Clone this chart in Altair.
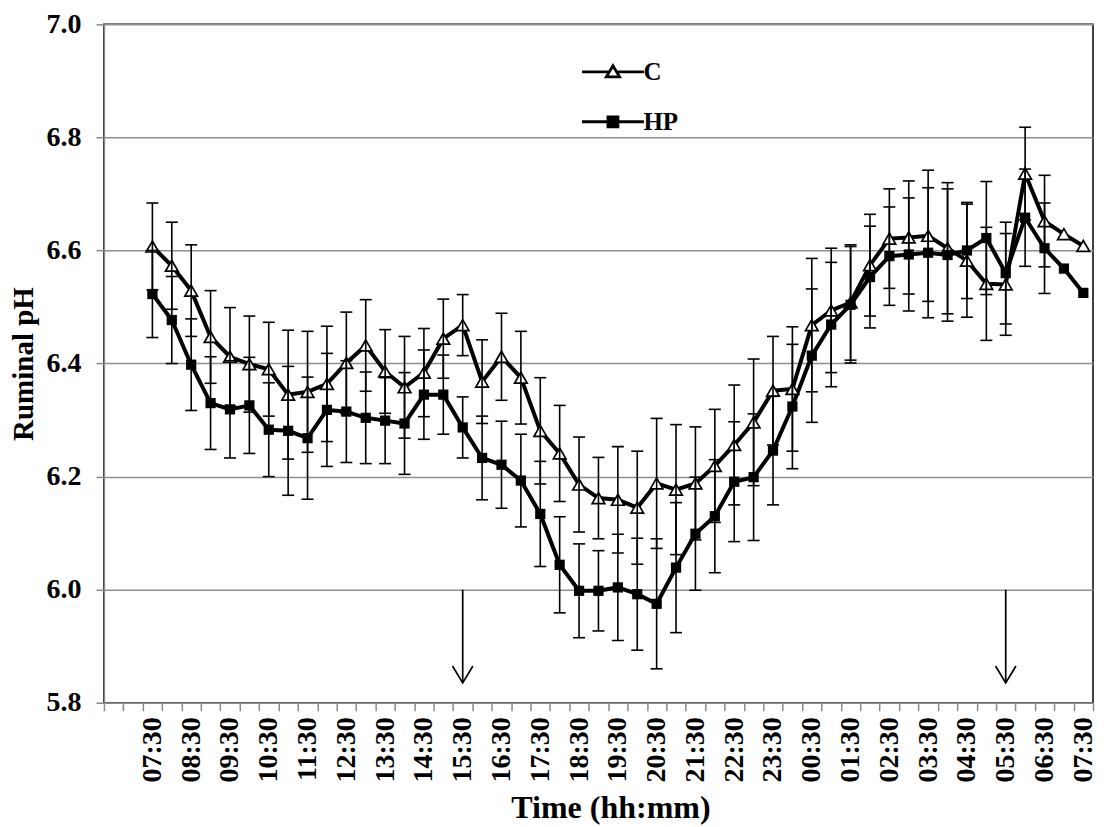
import json
import altair as alt
import pandas as pd

times = ["07:30", "08:00", "08:30", "09:00", "09:30", "10:00", "10:30", "11:00", "11:30",
         "12:00", "12:30", "13:00", "13:30", "14:00", "14:30", "15:00", "15:30", "16:00",
         "16:30", "17:00", "17:30", "18:00", "18:30", "19:00", "19:30", "20:00", "20:30",
         "21:00", "21:30", "22:00", "22:30", "23:00", "23:30", "00:00", "00:30", "01:00",
         "01:30", "02:00", "02:30", "03:00", "03:30", "04:00", "04:30", "05:00", "05:30",
         "06:00", "06:30", "07:00", "07:30"]

series_names = ["C", "HP"]

c_mean = [6.607, 6.573, 6.529, 6.447, 6.412, 6.399, 6.390, 6.345, 6.350, 6.364,
          6.401, 6.432, 6.386, 6.358, 6.384, 6.444, 6.468, 6.368, 6.412, 6.375,
          6.281, 6.241, 6.186, 6.162, 6.159, 6.145, 6.188, 6.177, 6.188, 6.219,
          6.256, 6.296, 6.352, 6.355, 6.468, 6.494, 6.508, 6.574, 6.621, 6.623,
          6.626, 6.604, 6.582, 6.541, 6.540, 6.736, 6.652, 6.629, 6.608]
c_se = [0.077, 0.077, 0.081, 0.082, 0.087, 0.085, 0.083, 0.114, 0.107, 0.102,
        0.090, 0.081, 0.074, 0.090, 0.078, 0.070, 0.054, 0.074, 0.077, 0.082,
        0.094, 0.085, 0.084, 0.072, 0.094, 0.100, 0.115, 0.115, 0.100, 0.100,
        0.106, 0.112, 0.096, 0.110, 0.118, 0.110, 0.102, 0.090, 0.088, 0.100,
        0.116, 0.116, 0.100, 0.100, 0.090, 0.082, 0.081, None, None]

hp_mean = [6.523, 6.477, 6.398, 6.330, 6.319, 6.326, 6.283, 6.281, 6.268, 6.318,
           6.315, 6.304, 6.299, 6.294, 6.345, 6.345, 6.287, 6.233, 6.221, 6.193,
           6.134, 6.044, 5.998, 5.998, 6.004, 5.992, 5.975, 6.039, 6.099, 6.130,
           6.191, 6.199, 6.246, 6.324, 6.414, 6.469, 6.504, 6.553, 6.590, 6.593,
           6.596, 6.592, 6.600, 6.622, 6.560, 6.658, 6.604, 6.568, 6.525]
hp_se = [0.077, 0.077, 0.081, 0.082, 0.086, 0.085, 0.083, 0.114, 0.108, 0.100,
         0.090, 0.081, 0.076, 0.090, 0.079, 0.070, 0.054, 0.074, 0.077, 0.082,
         0.093, 0.085, 0.083, 0.071, 0.094, 0.099, 0.115, 0.115, 0.100, 0.100,
         0.106, 0.112, 0.096, 0.110, 0.118, 0.110, 0.103, 0.090, 0.087, 0.100,
         0.115, 0.117, 0.085, 0.100, 0.090, 0.086, 0.080, None, None]

arrow_times = ["15:30", "05:30"]
arrow_top = 6.0
arrow_bottom = 5.835

y_ticks = [5.8, 6.0, 6.2, 6.4, 6.6, 6.8, 7.0]

# ---------- tables ----------
rows = []
for name, means, ses in (("C", c_mean, c_se), ("HP", hp_mean, hp_se)):
    for i, (m, s) in enumerate(zip(means, ses)):
        rows.append({"series": name, "idx": i, "time": times[i], "mean": m,
                     "lo": None if s is None else m - s,
                     "hi": None if s is None else m + s})
df = pd.DataFrame(rows)
err_df = df.dropna(subset=["lo"])

arrow_df = pd.DataFrame({"idx": [times.index(t) for t in arrow_times],
                         "top": [arrow_top] * len(arrow_times),
                         "bottom": [arrow_bottom] * len(arrow_times)})

FONT = "Liberation Serif"
label_expr = ("datum.value >= 0 && datum.value % 2 == 0 ? "
              + json.dumps(times) + "[datum.value] : ''")

x_enc = alt.X("idx:O",
              scale=alt.Scale(type="band", domain=list(range(-2, len(times))),
                              paddingInner=0, paddingOuter=0),
              axis=alt.Axis(title="Time (hh:mm)", labelExpr=label_expr, labelAngle=-90,
                            labelOverlap=False, tickBand="extent", grid=False,
                            labelPadding=6, titlePadding=11, titleX=507,
                            labelFontSize=28, titleFontSize=32))
y_scale = alt.Scale(domain=[5.8, 7.0], nice=False, zero=False)
y_enc = alt.Y("mean:Q", scale=y_scale,
              axis=alt.Axis(title="Ruminal pH", values=y_ticks, format=".1f",
                            labelPadding=15, titlePadding=7,
                            labelFontSize=28, titleFontSize=29))

base = alt.Chart(df)

lines = base.mark_line(color="black", strokeWidth=4).encode(
    x=x_enc, y=y_enc, detail="series:N")

pts_c = base.transform_filter(alt.datum.series == "C").mark_point(
    shape="triangle-up", filled=True, fill="white", stroke="black",
    strokeWidth=1.7, size=160, opacity=1).encode(x=x_enc, y=y_enc)

pts_hp = base.transform_filter(alt.datum.series == "HP").mark_point(
    shape="square", filled=True, color="black", size=105, opacity=1).encode(x=x_enc, y=y_enc)

err = alt.Chart(err_df).mark_rule(color="black", strokeWidth=1.6).encode(
    x=x_enc, y=alt.Y("lo:Q", scale=y_scale), y2="hi:Q")
cap_lo = alt.Chart(err_df).mark_tick(color="black", thickness=1.6, size=12, opacity=1).encode(
    x=x_enc, y=alt.Y("lo:Q", scale=y_scale))
cap_hi = alt.Chart(err_df).mark_tick(color="black", thickness=1.6, size=12, opacity=1).encode(
    x=x_enc, y=alt.Y("hi:Q", scale=y_scale))

arrow_shaft = alt.Chart(arrow_df).mark_rule(color="black", strokeWidth=1.7).encode(
    x=x_enc, y=alt.Y("top:Q", scale=y_scale), y2="bottom:Q")
arrow_head = alt.Chart(arrow_df).mark_point(
    shape="M-0.6,-1L0,0L0.6,-1", filled=False, stroke="black", strokeWidth=1.7,
    size=1156, opacity=1).encode(x=x_enc, y=alt.Y("bottom:Q", scale=y_scale))

C_PATH = "M-3.1,0H-0.36M0.36,0H3.1M0,-0.6L0.66,0.5L-0.66,0.5Z"
HP_PATH = "M-3.1,0H-0.5M0.5,0H3.1M-0.5,-0.5H0.5V0.5H-0.5Z"
leg = alt.Legend(title=None, orient="none", legendX=497, legendY=35,
                 labelFont=FONT, labelFontSize=25, labelFontWeight="bold",
                 labelColor="black", symbolSize=400, symbolStrokeWidth=2.8,
                 labelOffset=18, rowPadding=24)
legend_layer = alt.Chart(pd.DataFrame({"series": series_names})).mark_point(
    filled=True, strokeWidth=2.8, opacity=1).encode(
    shape=alt.Shape("series:N", scale=alt.Scale(domain=series_names, range=[C_PATH, HP_PATH]),
                    legend=leg),
    fill=alt.Fill("series:N", scale=alt.Scale(domain=series_names, range=["white", "black"]),
                  legend=leg),
    stroke=alt.Stroke("series:N", scale=alt.Scale(domain=series_names, range=["black", "black"]),
                      legend=leg),
).transform_filter("false")

chart = alt.layer(lines, pts_c, pts_hp, err, cap_lo, cap_hi, arrow_shaft, arrow_head,
                  legend_layer).properties(
    width=990, height=679,
    padding={"left": 2, "top": 2, "right": 0, "bottom": 0},
    background="white",
).configure_view(stroke="black", strokeWidth=1.5).configure_axis(
    labelFont=FONT, titleFont=FONT, labelFontWeight="bold", titleFontWeight="bold",
    labelColor="black", titleColor="black", domainColor="#8a8a8a", domainWidth=1.5,
    tickColor="#8a8a8a", tickWidth=1.5, tickSize=8, gridColor="#8f8f8f", gridWidth=1.5,
)

chart.save("out.html", embed_options={"renderer": "svg", "actions": False})
